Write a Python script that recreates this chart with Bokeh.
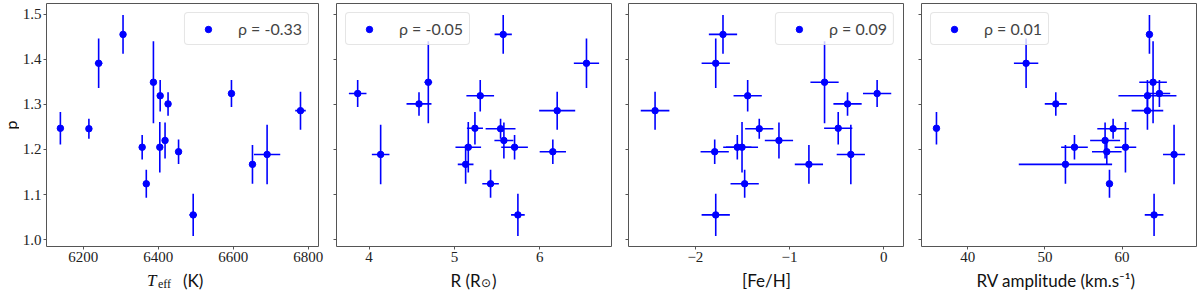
import numpy as np
from bokeh.plotting import figure
from bokeh.layouts import row, column
from bokeh.models import (ColumnDataSource, Label, FixedTicker, PrintfTickFormatter,
                          CustomJSTickFormatter, Range1d, Legend, LegendItem)
from bokeh.embed import file_html
from bokeh.resources import INLINE

# ---- data (one entry per star) ----
p_val = [1.247, 1.246, 1.391, 1.455, 1.205, 1.124, 1.349, 1.319, 1.205, 1.220,
         1.301, 1.195, 1.055, 1.324, 1.167, 1.189, 1.286]
p_err = [0.036, 0.022, 0.055, 0.043, 0.027, 0.031, 0.091, 0.035, 0.056, 0.040,
         0.026, 0.027, 0.047, 0.030, 0.043, 0.066, 0.042]
teff = [6139, 6215, 6241, 6306, 6357, 6368, 6387, 6405, 6404, 6418,
        6426, 6454, 6493, 6595, 6651, 6690, 6779]
teff_err = [5, 5, 10, 5, 5, 5, 5, 5, 5, 5, 5, 5, 10, 5, 5, 35, 14]
radius = [5.240, 5.540, 6.546, 5.571, 5.704, 5.423, 4.694, 5.302, 5.162, 5.579,
          4.585, 6.152, 5.743, 3.867, 5.131, 4.136, 6.203]
radius_err = [0.094, 0.175, 0.148, 0.101, 0.156, 0.097, 0.045, 0.162, 0.150, 0.111,
              0.146, 0.154, 0.080, 0.103, 0.092, 0.103, 0.211]
feh = [-0.484, -1.322, -1.784, -1.707, -1.555, -1.477, -0.629, -1.445, -1.505, -1.113,
       -0.385, -1.795, -1.784, -0.071, -0.795, -0.350, -2.428]
feh_err = [0.15, 0.15, 0.15, 0.15, 0.15, 0.15, 0.15, 0.15, 0.17, 0.15,
           0.15, 0.15, 0.15, 0.15, 0.15, 0.15, 0.152]
rv_amp = [35.94, 58.84, 47.56, 63.55, 53.83, 58.37, 64.02, 63.29, 60.44, 57.80,
          51.41, 58.02, 64.15, 64.84, 52.66, 66.74, 63.29]
rv_err = [0.2, 2.05, 1.58, 0.3, 1.73, 0.3, 1.79, 3.76, 1.40, 1.94,
          1.43, 1.92, 1.21, 1.4, 6.05, 1.43, 2.05]
rho_vals = ["-0.33", "-0.05", "0.09", "0.01"]

y_ticks = [1.0, 1.1, 1.2, 1.3, 1.4, 1.5]
x_ticks = [[6200, 6400, 6600, 6800], [4, 5, 6], [-2, -1, 0], [40, 50, 60]]

BLUE = "#0000ff"
FRAME = "#555555"
TICKFONT = "Liberation Serif"
LABFONT = "Lato"
H = 266          # height of the plotting row
STRIP_H = 24     # height of the strip holding the x-axis titles
TOTAL_H = H + STRIP_H
TOP = 3
BOTTOM = H - TOP - 243
PW = 19          # width of the strip holding the y-axis title


def panel(x, xerr, xr, ticks, width, bl, br, loc, rho, first=False, overrides=None):
    f = figure(width=width, height=H, x_range=Range1d(*xr), y_range=Range1d(0.985, 1.5235),
               output_backend="svg", toolbar_location=None,
               min_border_left=bl, min_border_right=br, min_border_top=TOP,
               min_border_bottom=BOTTOM)
    f.grid.visible = False
    f.outline_line_color = FRAME
    f.outline_line_width = 1
    f.outline_line_alpha = 1
    for ax in (f.xaxis[0], f.yaxis[0]):
        ax.axis_line_color = None
        ax.major_tick_line_color = FRAME
        ax.major_tick_out = 3
        ax.major_tick_in = 0
        ax.minor_tick_line_color = None
        ax.major_label_text_font = TICKFONT
        ax.major_label_text_font_size = "15px"
        ax.major_label_text_color = "#222222"
        ax.major_label_standoff = 2
    f.xaxis.ticker = FixedTicker(ticks=ticks)
    if overrides:
        f.xaxis.major_label_overrides = overrides
    f.yaxis.ticker = FixedTicker(ticks=y_ticks)
    if first:
        f.yaxis.formatter = PrintfTickFormatter(format="%.1f")
    else:
        f.yaxis.formatter = CustomJSTickFormatter(code="return ''")
        f.yaxis.major_label_standoff = 0

    xa = np.array(x, dtype=float)
    xe = np.array(xerr, dtype=float)
    ya = np.array(p_val, dtype=float)
    ye = np.array(p_err, dtype=float)
    src = ColumnDataSource(dict(x=xa, y=ya, xlo=xa - xe, xhi=xa + xe, ylo=ya - ye, yhi=ya + ye))
    f.segment(x0="xlo", y0="y", x1="xhi", y1="y", source=src, line_color=BLUE, line_width=1.6)
    f.segment(x0="x", y0="ylo", x1="x", y1="yhi", source=src, line_color=BLUE, line_width=1.6)
    r = f.scatter(x="x", y="y", source=src, size=6.5, fill_color=BLUE, line_color=BLUE)

    leg = Legend(items=[LegendItem(label="ρ = " + rho, renderers=[r])], location=loc,
                 margin=9, padding=6, glyph_width=34, glyph_height=16, label_height=16,
                 label_standoff=13, label_text_font=LABFONT, label_text_font_size="16px",
                 border_line_color="#cccccc", border_line_width=1,
                 background_fill_alpha=0.8, spacing=0)
    try:
        leg.border_radius = 4
    except Exception:
        pass
    f.add_layout(leg)
    return f


def strip(width, height):
    s = figure(width=width, height=height, x_range=Range1d(0, width), y_range=Range1d(0, height),
               output_backend="svg", toolbar_location=None, x_axis_location=None,
               y_axis_location=None, min_border=0, min_border_left=0, min_border_right=0,
               min_border_top=0, min_border_bottom=0)
    s.grid.visible = False
    s.outline_line_color = None
    return s


def lab(f, x, page_y, text, font=LABFONT, size="17px", style="normal", align="left", angle=0.0):
    # page_y: vertical centre of the text, in pixels from the top of the page
    f.add_layout(Label(x=x, y=TOTAL_H - page_y if f.height == TOTAL_H else f.height - (page_y - H),
                       text=text, text_font=font, text_font_size=size, text_font_style=style,
                       text_align=align, text_baseline="middle", angle=angle,
                       text_color="#111111"))


W = [327 - PW, 292, 293, 286]
p1 = panel(teff, teff_err, (6102, 6827), x_ticks[0], W[0], 43 - PW, 9, "top_right", rho_vals[0], first=True)
p2 = panel(radius, radius_err, (3.619, 6.839), x_ticks[1], W[1], 9, 8, "top_left", rho_vals[1])
p3 = panel(feh, feh_err, (-2.71, 0.209), x_ticks[2], W[2], 9, 9, "top_right", rho_vals[2],
           overrides={-2: "−2", -1: "−1", 0: "0"})
p4 = panel(rv_amp, rv_err, (34.0, 69.65), x_ticks[3], W[3], 9, 2, "top_left", rho_vals[3])

# strips that carry the axis titles
s1, s2, s3, s4 = (strip(w, STRIP_H) for w in W)
MID = 279.5
lab(s1, 127.5, MID, "T", font=TICKFONT, style="italic")
lab(s1, 138.5, MID + 3.5, "eff", font=TICKFONT, size="12px")
lab(s1, 163.5, MID, "(K)")
lab(s2, 123, MID, "R (R")
lab(s2, 158.5, MID + 3, "⊙", font="DejaVu Sans", size="12px", align="center")
lab(s2, 164.5, MID, ")")
lab(s3, 147, MID, "[Fe/H]", align="center")
lab(s4, 143.5, MID, "RV amplitude (km.s⁻¹)", align="center")

ps = strip(PW, TOTAL_H)
lab(ps, 9.5, 124.5, "p", size="16px", align="center", angle=np.pi / 2)

layout = row(ps, column(row(p1, p2, p3, p4), row(s1, s2, s3, s4)))
open("out.html", "w").write(file_html(layout, INLINE))
